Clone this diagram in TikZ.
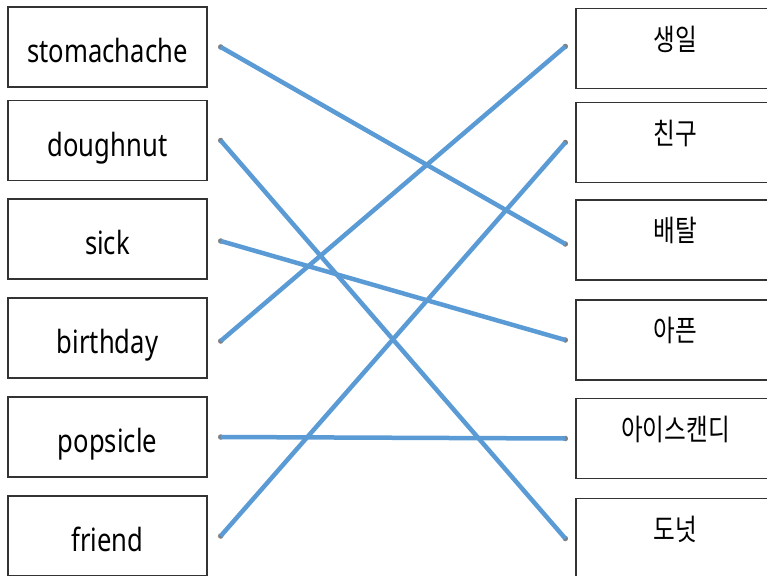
\documentclass[tikz,border=0pt]{standalone}
\usepackage{fontspec}
\usepackage{graphicx}
\setmainfont{Noto Sans}
\newfontfamily\krfont{Noto Sans CJK KR}
\usetikzlibrary{positioning}
\definecolor{linkblue}{HTML}{5B9BD5}
\newcommand\narrow[1]{\scalebox{0.8}[1]{#1}}

\begin{document}
\begin{tikzpicture}[x=1pt,y=-1pt,
box/.style = {draw=black!80, line width=1.5pt, minimum width=199pt, minimum height=80pt, inner sep=0pt},
word/.style = {font=\fontsize{32}{34}\selectfont, text height=33pt, text depth=2pt},
kword/.style = {font=\krfont\fontsize{29.5}{32}\selectfont, inner sep=0pt},
dot/.style = {circle, fill=black!50, inner sep=0pt, minimum size=5.5pt},
link/.style = {draw=linkblue, line width=4.5pt}
                        ]
\useasboundingbox (0,0) rectangle (767,575);

% english words
    \node[box,word] (stomach) at (107.5,47) {\narrow{stomachache}};
    \node[box,word] (dough) at (107.5,140.5) {\narrow{doughnut}};
    \node[box,word] (sick) at (107.5,239) {\narrow{sick}};
    \node[box,word] (bday) at (107.5,338) {\narrow{birthday}};
    \node[box,word] (pops) at (107.5,437) {\narrow{popsicle}};
    \node[box,word] (friend) at (107.5,536) {\narrow{friend}};

% korean words
    \node[box] (saengil) at (675.5,48.5) {};
    \node[kword, below=18pt of saengil.north] (saengil-t) {\narrow{생일}};
    \node[box] (chingu) at (675.5,142.5) {};
    \node[kword, below=18pt of chingu.north] (chingu-t) {\narrow{친구}};
    \node[box] (baetal) at (675.5,240) {};
    \node[kword, below=18pt of baetal.north] (baetal-t) {\narrow{배탈}};
    \node[box] (apeun) at (675.5,340) {};
    \node[kword, below=18pt of apeun.north] (apeun-t) {\narrow{아픈}};
    \node[box] (icecandy) at (675.5,438.5) {};
    \node[kword, below=18pt of icecandy.north] (icecandy-t) {\narrow{아이스캔디}};
    \node[box] (doneot) at (675.5,538.5) {};
    \node[kword, below=18pt of doneot.north] (doneot-t) {\narrow{도넛}};

% end points
    \node[dot, right=10pt of stomach] (a1) {};
    \node[dot, right=10pt of dough] (a2) {};
    \node[dot, right=10pt of sick, yshift=-2pt] (a3) {};
    \node[dot, right=10pt of bday, yshift=-3pt] (a4) {};
    \node[dot, right=10pt of pops] (a5) {};
    \node[dot, right=10pt of friend] (a6) {};
    \node[dot, left=7pt of saengil, yshift=2pt] (b1) {};
    \node[dot, left=7pt of chingu] (b2) {};
    \node[dot, left=7pt of baetal, yshift=-4pt] (b3) {};
    \node[dot, left=7pt of apeun] (b4) {};
    \node[dot, left=7pt of icecandy] (b5) {};
    \node[dot, left=7pt of doneot] (b6) {};

    \draw[link] (a1.center) -- (b3.center);
    \draw[link] (a2.center) -- (b6.center);
    \draw[link] (a3.center) -- (b4.center);
    \draw[link] (a4.center) -- (b1.center);
    \draw[link] (a5.center) -- (b5.center);
    \draw[link] (a6.center) -- (b2.center);

\end{tikzpicture}
\end{document}
